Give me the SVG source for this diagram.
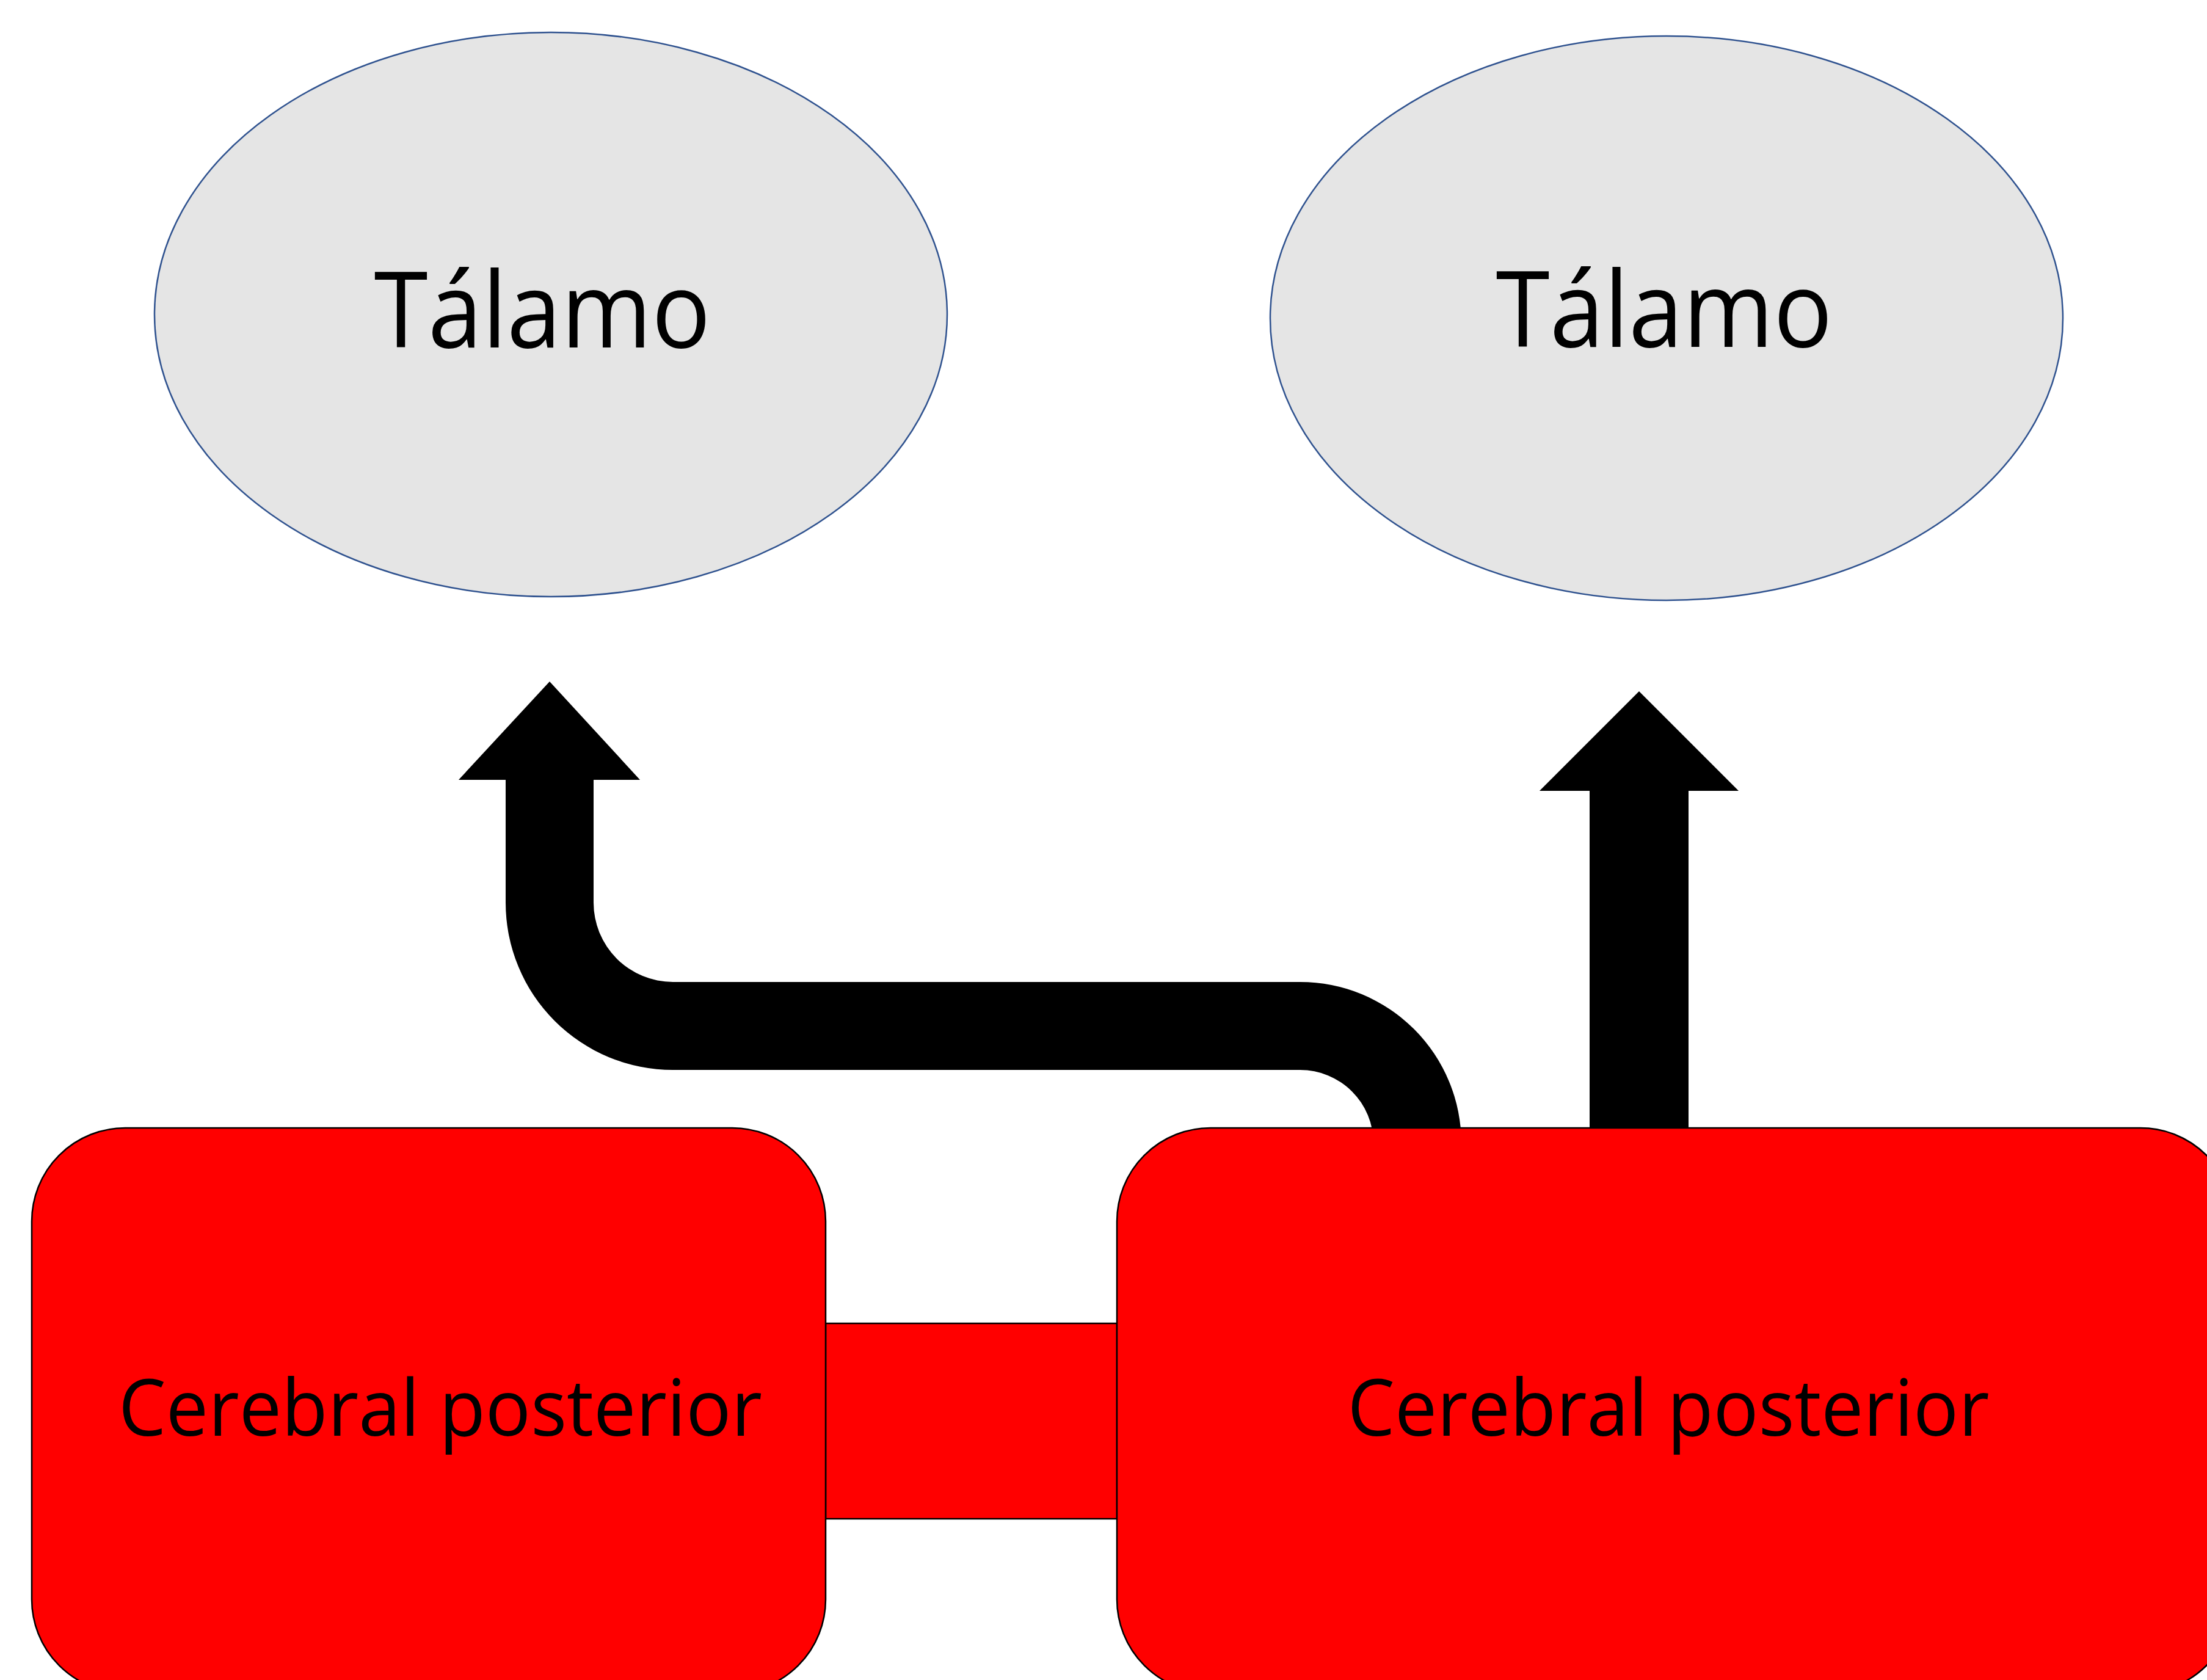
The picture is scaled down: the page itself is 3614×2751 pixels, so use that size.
<svg xmlns="http://www.w3.org/2000/svg" width="3614" height="2751" viewBox="0 0 3614 2751">
  <style>
    .thal { fill: #e5e5e5; stroke: #2f528f; stroke-width: 2.5; }
    .artery { fill: #ff0000; stroke: #000000; stroke-width: 2.5; }
    .flow { fill: #000000; stroke: none; }
    .label { font-family: "Open Sans", "Noto Sans", "Liberation Sans", sans-serif; fill: #000000; text-anchor: middle; }
    .thal-label { font-size: 173px; }
    .artery-label { font-size: 129px; }
  </style>
  <rect x="0" y="0" width="3614" height="2751" fill="#ffffff"/>

  <!-- flow arrows and the bridge between the two arteries -->
  <g id="connectors">
    <path id="flow-left" class="flow" d="M 828 1277 L 751 1277 L 900 1116 L 1048 1277 L 972 1277 L 972 1478 A 130 130 0 0 0 1102 1608 L 2129 1608 A 264 264 0 0 1 2393 1872 L 2393 1900 L 2249 1900 L 2249 1872 A 120 120 0 0 0 2129 1752 L 1102 1752 A 274 274 0 0 1 828 1478 Z"/>
    <path id="flow-right" class="flow" d="M 2603 1900 L 2603 1295 L 2521 1295 L 2684 1132 L 2847 1295 L 2765 1295 L 2765 1900 Z"/>
    <rect id="bridge" class="artery" x="1352" y="2167" width="477" height="320"/>
  </g>

  <g id="thalamus-left">
    <ellipse class="thal" cx="902" cy="515" rx="649" ry="462"/>
    <text class="label thal-label" x="888" y="569" textLength="551" lengthAdjust="spacingAndGlyphs">Tálamo</text>
  </g>

  <g id="thalamus-right">
    <ellipse class="thal" cx="2729" cy="521" rx="649" ry="462"/>
    <text class="label thal-label" x="2725" y="568" textLength="551" lengthAdjust="spacingAndGlyphs">Tálamo</text>
  </g>

  <g id="pca-left">
    <rect class="artery" x="52" y="1847" width="1300" height="925" rx="153" ry="153"/>
    <text class="label artery-label" x="721" y="2351" textLength="1054" lengthAdjust="spacingAndGlyphs">Cerebral posterior</text>
  </g>

  <g id="pca-right">
    <rect class="artery" x="1829" y="1847" width="1829" height="925" rx="153" ry="153"/>
    <text class="label artery-label" x="2732" y="2351" textLength="1051" lengthAdjust="spacingAndGlyphs">Cerebral posterior</text>
  </g>
</svg>
